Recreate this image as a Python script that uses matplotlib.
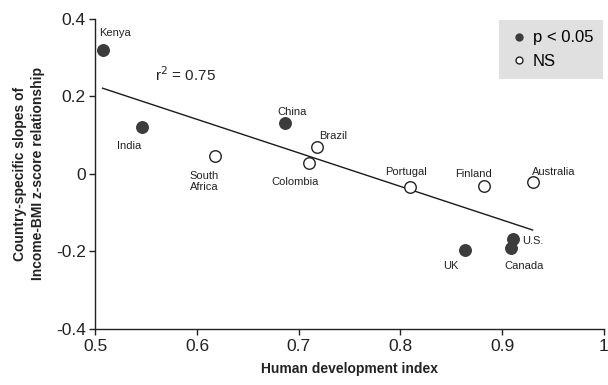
import matplotlib
matplotlib.use("Agg")
import matplotlib.pyplot as plt

plt.rcParams['font.family'] = ['Liberation Sans', 'DejaVu Sans']

countries = ["Kenya", "India", "South\nAfrica", "China", "Brazil", "Colombia",
             "Portugal", "Finland", "Australia", "U.S.", "Canada", "UK"]
hdi = [0.507, 0.546, 0.618, 0.686, 0.718, 0.710, 0.809, 0.882, 0.930, 0.911, 0.909, 0.864]
slopes = [0.319, 0.120, 0.047, 0.130, 0.070, 0.029, -0.034, -0.031, -0.020, -0.169, -0.192, -0.197]
significant = [True, True, False, True, False, False, False, False, False, True, True, True]
fit_x = [0.507, 0.930]
fit_y = [0.221, -0.145]
x_ticks = [0.5, 0.6, 0.7, 0.8, 0.9, 1.0]
x_ticklabels = ["0.5", "0.6", "0.7", "0.8", "0.9", "1"]
y_ticks = [-0.4, -0.2, 0.0, 0.2, 0.4]
y_ticklabels = ["-0.4", "-0.2", "0", "0.2", "0.4"]

# label offsets in pixels (dx, dy), alignment
offsets = {
    "Kenya": (12, 17, "center"),
    "India": (-13, -19, "center"),
    "South\nAfrica": (-11, -26, "center"),
    "China": (8, 11, "center"),
    "Brazil": (2, 11, "left"),
    "Colombia": (-14, -19, "center"),
    "Portugal": (-4, 15, "center"),
    "Finland": (-10, 12, "center"),
    "Australia": (-1, 10, "left"),
    "U.S.": (9, -2, "left"),
    "Canada": (13, -18, "center"),
    "UK": (-15, -16, "center"),
}

fig = plt.figure(figsize=(6.08, 3.85), dpi=100)
ax = fig.add_axes([0.157, 0.146, 0.836, 0.805])

dark = "#3c3c3c"
ax.plot(fit_x, fit_y, color="#1a1a1a", lw=1.0, zorder=1)

sx = [x for x, s in zip(hdi, significant) if s]
sy = [y for y, s in zip(slopes, significant) if s]
nx = [x for x, s in zip(hdi, significant) if not s]
ny = [y for y, s in zip(slopes, significant) if not s]
ax.plot(sx, sy, 'o', ms=8.3, mfc=dark, mec=dark, mew=1.0, ls='none', zorder=3, label="p < 0.05")
ax.plot(nx, ny, 'o', ms=8.3, mfc="white", mec="#222222", mew=1.0, ls='none', zorder=3, label="NS")

for name, x, y in zip(countries, hdi, slopes):
    dx, dy, ha = offsets[name]
    ax.annotate(name, (x, y), xytext=(dx, dy), textcoords="offset pixels",
                ha=ha, va="center", fontsize=8, color="#222222", linespacing=1.2)

ax.text(0.559, 0.255, "r$^2$ = 0.75", fontsize=11, color="#222222", ha="left", va="center")

ax.set_xlim(0.5, 1.0)
ax.set_ylim(-0.4, 0.4)
ax.set_xticks(x_ticks)
ax.set_xticklabels(x_ticklabels)
ax.set_yticks(y_ticks)
ax.set_yticklabels(y_ticklabels)
ax.tick_params(labelsize=12.5, colors="#222222", direction="out", length=4, width=1, pad=3)
for s in ["top", "right"]:
    ax.spines[s].set_visible(False)
for s in ["left", "bottom"]:
    ax.spines[s].set_color("#222222")
    ax.spines[s].set_linewidth(1.0)

ax.set_xlabel("Human development index", fontsize=10, fontweight="bold", labelpad=6, color="#222222")
ax.set_ylabel("Country-specific slopes of\nIncome-BMI z-score relationship", fontsize=10,
              fontweight="bold", labelpad=8, color="#222222", linespacing=1.3)

leg = ax.legend(loc="upper right", bbox_to_anchor=(0.999, 0.995), frameon=True, fancybox=False,
                fontsize=12, handletextpad=0.15, borderpad=0.6, handlelength=1.3, labelspacing=0.5,
                markerscale=0.6, borderaxespad=0)
leg.get_frame().set_facecolor("#e0e0e0")
leg.get_frame().set_edgecolor("none")
leg.get_frame().set_alpha(1)
leg.set_zorder(0)

fig.savefig("out.png", dpi=100)
